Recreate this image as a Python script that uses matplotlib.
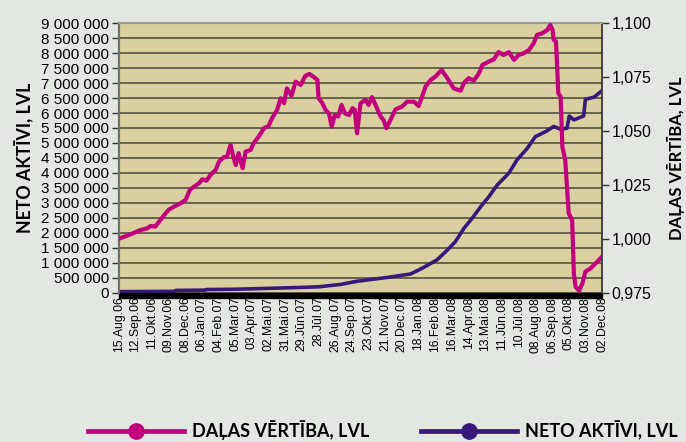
import numpy as np
import pandas as pd
import matplotlib
matplotlib.use("Agg")
import matplotlib.pyplot as plt
from matplotlib.lines import Line2D
from matplotlib.patches import Rectangle

# daļas vērtība (unit value, right axis)
unit_dates = [
    "2006-08-15", "2006-09-01", "2006-09-21", "2006-10-03", "2006-10-09", "2006-10-17",
    "2006-10-26", "2006-11-04", "2006-11-10", "2006-11-21", "2006-11-30", "2006-12-09",
    "2006-12-16", "2006-12-23", "2007-01-01", "2007-01-07", "2007-01-14", "2007-01-21",
    "2007-01-30", "2007-02-05", "2007-02-13", "2007-02-19", "2007-02-25", "2007-03-01",
    "2007-03-06", "2007-03-11", "2007-03-18", "2007-03-23", "2007-04-01", "2007-04-06",
    "2007-04-15", "2007-04-24", "2007-05-02", "2007-05-08", "2007-05-17", "2007-05-23",
    "2007-05-29", "2007-06-03", "2007-06-11", "2007-06-18", "2007-06-27", "2007-07-05",
    "2007-07-12", "2007-07-20", "2007-07-26", "2007-07-28", "2007-08-03", "2007-08-09",
    "2007-08-15", "2007-08-20", "2007-08-25", "2007-08-31", "2007-09-06", "2007-09-12",
    "2007-09-19", "2007-09-25", "2007-09-29", "2007-10-03", "2007-10-09", "2007-10-18",
    "2007-10-23", "2007-10-29", "2007-11-04", "2007-11-13", "2007-11-18", "2007-11-23",
    "2007-11-30", "2007-12-09", "2007-12-20", "2007-12-29", "2008-01-10", "2008-01-18",
    "2008-01-24", "2008-01-30", "2008-02-08", "2008-02-16", "2008-02-27", "2008-03-08",
    "2008-03-19", "2008-03-31", "2008-04-06", "2008-04-14", "2008-04-23", "2008-05-02",
    "2008-05-08", "2008-05-19", "2008-05-28", "2008-06-05", "2008-06-14", "2008-06-23",
    "2008-07-02", "2008-07-10", "2008-07-19", "2008-07-28", "2008-08-05", "2008-08-11",
    "2008-08-20", "2008-08-29", "2008-09-03", "2008-09-07", "2008-09-09", "2008-09-13",
    "2008-09-17", "2008-09-21", "2008-09-24", "2008-09-29", "2008-10-05", "2008-10-11",
    "2008-10-14", "2008-10-17", "2008-10-23", "2008-10-29", "2008-11-03", "2008-11-12",
    "2008-11-21", "2008-12-02",
]
unit_value = [
    1.0000, 1.0017, 1.0040, 1.0048, 1.0059, 1.0056,
    1.0087, 1.0118, 1.0136, 1.0152, 1.0164, 1.0180,
    1.0226, 1.0241, 1.0257, 1.0276, 1.0269, 1.0296,
    1.0319, 1.0358, 1.0378, 1.0381, 1.0435, 1.0389,
    1.0342, 1.0397, 1.0327, 1.0404, 1.0412, 1.0443,
    1.0474, 1.0513, 1.0523, 1.0559, 1.0598, 1.0652,
    1.0629, 1.0698, 1.0663, 1.0729, 1.0714, 1.0756,
    1.0765, 1.0750, 1.0737, 1.0652, 1.0632, 1.0598,
    1.0582, 1.0520, 1.0574, 1.0567, 1.0621, 1.0582,
    1.0574, 1.0606, 1.0598, 1.0489, 1.0629, 1.0644,
    1.0621, 1.0657, 1.0621, 1.0567, 1.0551, 1.0513,
    1.0551, 1.0601, 1.0613, 1.0636, 1.0636, 1.0616,
    1.0659, 1.0706, 1.0737, 1.0752, 1.0783, 1.0745,
    1.0698, 1.0687, 1.0724, 1.0745, 1.0734, 1.0768,
    1.0807, 1.0822, 1.0833, 1.0866, 1.0853, 1.0866,
    1.0830, 1.0853, 1.0861, 1.0876, 1.0907, 1.0946,
    1.0954, 1.0969, 1.0992, 1.0969, 1.0923, 1.0915,
    1.0675, 1.0659, 1.0427, 1.0365, 1.0118, 1.0087,
    0.9839, 0.9777, 0.9758, 0.9793, 0.9847, 0.9862,
    0.9886, 0.9916,
]

# neto aktīvi (net assets, left axis)
assets_dates = [
    "2006-08-15", "2006-11-20", "2006-11-22", "2007-01-12", "2007-01-14", "2007-03-06",
    "2007-05-23", "2007-07-28", "2007-09-04", "2007-10-04", "2007-11-27", "2008-01-04",
    "2008-01-24", "2008-02-19", "2008-03-08", "2008-03-22", "2008-04-06", "2008-04-20",
    "2008-05-05", "2008-05-19", "2008-06-03", "2008-06-23", "2008-07-07", "2008-07-25",
    "2008-08-08", "2008-08-26", "2008-09-09", "2008-09-21", "2008-10-02", "2008-10-06",
    "2008-10-14", "2008-10-31", "2008-11-03", "2008-11-18", "2008-12-02",
]
net_assets = [
    30000, 40000, 70000, 80000, 100000, 110000,
    150000, 190000, 270000, 380000, 510000, 620000,
    810000, 1090000, 1420000, 1700000, 2150000, 2480000,
    2870000, 3200000, 3600000, 3990000, 4430000, 4820000,
    5210000, 5380000, 5550000, 5460000, 5490000, 5900000,
    5770000, 5900000, 6460000, 6530000, 6750000,
]

tick_dates = [
    "2006-08-15", "2006-09-12", "2006-10-11", "2006-11-09", "2006-12-08", "2007-01-06",
    "2007-02-04", "2007-03-05", "2007-04-03", "2007-05-02", "2007-05-31", "2007-06-29",
    "2007-07-28", "2007-08-26", "2007-09-24", "2007-10-23", "2007-11-21", "2007-12-20",
    "2008-01-18", "2008-02-16", "2008-03-16", "2008-04-14", "2008-05-13", "2008-06-11",
    "2008-07-10", "2008-08-08", "2008-09-06", "2008-10-05", "2008-11-03", "2008-12-02",
]
month_names = ["Jan", "Feb", "Mar", "Apr", "Mai", "Jūn", "Jūl", "Aug", "Sep", "Okt", "Nov", "Dec"]

left_ticks = list(range(0, 9000001, 500000))
right_ticks = [0.975, 1.000, 1.025, 1.050, 1.075, 1.100]

magenta = "#c2007c"
purple = "#36197a"
bg = "#e3e7e1"
plot_bg = "#dbcfa1"

label_font = ["Lato", "DejaVu Sans"]
tick_font = ["Liberation Sans", "DejaVu Sans"]
narrow_font = ["Liberation Sans Narrow", "DejaVu Sans Condensed", "Liberation Sans"]

fig = plt.figure(figsize=(6.86, 4.42), dpi=100, facecolor=bg)
ax = fig.add_axes([0.1735, 0.3382, 0.7041, 0.6091])
ax.set_facecolor(plot_bg)
ax2 = ax.twinx()

ud = pd.to_datetime(unit_dates)
ad = pd.to_datetime(assets_dates)
td = pd.to_datetime(tick_dates)

ax.plot(ad, net_assets, color=purple, lw=2.6, solid_joinstyle="round", zorder=3)
ax2.plot(ud, unit_value, color=magenta, lw=3.0, solid_joinstyle="round", zorder=3)

ax.set_xlim(td[0], td[-1])
ax.set_ylim(0, 9000000)
ax2.set_ylim(0.975, 1.100)

ax.set_yticks(left_ticks)
ax.set_yticklabels([f"{v:,}".replace(",", " ") for v in left_ticks],
                   family=tick_font, fontsize=11)
ax2.set_yticks(right_ticks)
ax2.set_yticklabels([f"{v:.3f}".replace(".", ",") for v in right_ticks],
                    family=tick_font, fontsize=11.5)

ax.set_xticks(td)
ax.set_xticklabels([f"{d.day:02d}.{month_names[d.month - 1]}.{d.year % 100:02d}" for d in td],
                   rotation=90, family=narrow_font, fontsize=8.8)
ax.tick_params(axis="x", length=0, pad=3)
ax.tick_params(axis="y", length=5, width=1, color="#333333", pad=2)
ax2.tick_params(axis="y", length=5, width=1, color="#333333", pad=2)

ax.grid(axis="y", color="#2e2e24", lw=1.1, alpha=0.85)
ax.set_axisbelow(True)

for a in (ax, ax2):
    a.spines["top"].set_color("#9a9a9a")
    a.spines["top"].set_linewidth(1.5)
    a.spines["left"].set_color("#6e6e6e")
    a.spines["left"].set_linewidth(1.5)
    a.spines["right"].set_color("#444444")
    a.spines["right"].set_linewidth(1.2)
    a.spines["bottom"].set_visible(False)

# black floor under the plot area
ax.add_patch(Rectangle((0, -0.021), 1.0, 0.021, transform=ax.transAxes,
                       color="black", clip_on=False, zorder=4))

ax.set_ylabel("NETO AKTĪVI, LVL", family=label_font, fontweight="bold",
              fontsize=12.8, labelpad=5)
ax2.set_ylabel("DAĻAS VĒRTĪBA, LVL", family=label_font, fontweight="bold",
               fontsize=12, labelpad=11)

handles = [
    Line2D([], [], color=magenta, lw=3.4, marker="o", markersize=11),
    Line2D([], [], color=purple, lw=3.4, marker="o", markersize=11),
]
fig.legend(handles, ["DAĻAS VĒRTĪBA, LVL", "NETO AKTĪVI, LVL"],
           loc="center", bbox_to_anchor=(0.558, 0.027), ncol=2, frameon=False,
           handlelength=5.3, handletextpad=0.45, columnspacing=2.9,
           prop={"family": label_font, "weight": "bold", "size": 13})

fig.savefig("out.png", dpi=100, facecolor=bg)
